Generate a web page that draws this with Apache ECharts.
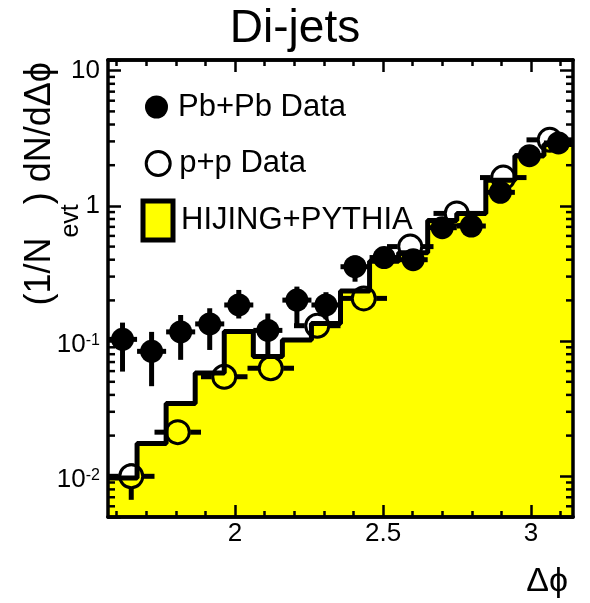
<!DOCTYPE html>
<html>
<head>
<meta charset="utf-8">
<style>
  html, body { margin: 0; padding: 0; background: #fff; }
  #chart { width: 590px; height: 603px; }
</style>
<script src="https://cdn.jsdelivr.net/npm/echarts@6/dist/echarts.min.js"></script>
</head>
<body>
<div id="chart"></div>
<script>
const FONT = '"Liberation Sans", Arial, Helvetica, sans-serif';

// delta phi goes from pi/2 to pi
const xMin = Math.PI / 2;
const xMax = Math.PI;
const yMin = 0.005;
const yMax = 12;
const pbpbBinWidth = Math.PI / 32;   // 16 bins (Pb+Pb, HIJING)
const ppBinWidth = Math.PI / 20;     // 10 bins (p+p)

// Pb+Pb data: value, lower and upper end of the error bar
const pbpbValue = [0.103, 0.084, 0.117, 0.134, 0.185, 0.12, 0.201, 0.185, 0.355, 0.415, 0.40, 0.69, 0.71, 1.26, 2.35, 2.92];
const pbpbLow   = [0.0595, 0.0464, 0.0727, 0.086, 0.147, 0.08, 0.128, 0.145, 0.275, 0.38, 0.36, 0.64, 0.66, 1.17, 2.2, 2.75];
const pbpbHigh  = [0.137, 0.117, 0.156, 0.175, 0.239, 0.16, 0.253, 0.23, 0.43, 0.46, 0.44, 0.75, 0.77, 1.36, 2.52, 3.1];

// p+p data
const ppValue = [0.0100, 0.0212, 0.0545, 0.063, 0.13, 0.207, 0.50, 0.88, 1.62, 3.08];
const ppLow   = [0.0067, 0.019, 0.049, 0.057, 0.118, 0.19, 0.47, 0.83, 1.53, 2.95];
const ppHigh  = [0.0125, 0.024, 0.060, 0.070, 0.143, 0.225, 0.53, 0.93, 1.72, 3.2];

// HIJING+PYTHIA histogram, one value per bin
const hijingValue = [0.0097, 0.0175, 0.0345, 0.058, 0.118, 0.077, 0.102, 0.135, 0.235, 0.39, 0.45, 0.78, 0.88, 1.55, 2.35, 2.85];

// ticks
const xMajorTicks = [2, 2.5, 3];
const xMinorTicks = [1.6, 1.7, 1.8, 1.9, 2.1, 2.2, 2.3, 2.4, 2.6, 2.7, 2.8, 2.9, 3.1];
const yMinorTicks = [
  0.006, 0.007, 0.008, 0.009,
  0.02, 0.03, 0.04, 0.05, 0.06, 0.07, 0.08, 0.09,
  0.2, 0.3, 0.4, 0.5, 0.6, 0.7, 0.8, 0.9,
  2, 3, 4, 5, 6, 7, 8, 9
];

const pbpbData = pbpbValue.map((v, i) => [xMin + (i + 0.5) * pbpbBinWidth, v, pbpbLow[i], pbpbHigh[i]]);
const ppData = ppValue.map((v, i) => [xMin + (i + 0.5) * ppBinWidth, v, ppLow[i], ppHigh[i]]);
const hijingData = hijingValue.map((v, i) => [xMin + i * pbpbBinWidth, v]);
hijingData.push([xMax, hijingValue[hijingValue.length - 1]]);

// error bars, leaving a gap round hollow markers
function errorBars(halfWidth, gap) {
  return function (params, api) {
    const x = api.value(0);
    const y = api.value(1);
    const c = api.coord([x, y]);
    const top = api.coord([x, api.value(3)])[1];
    const bot = api.coord([x, api.value(2)])[1];
    const left = api.coord([x - halfWidth, y])[0];
    const right = api.coord([x + halfWidth, y])[0];
    const segs = [];
    if (c[1] - top > gap) segs.push([c[0], top, c[0], c[1] - gap]);
    if (bot - c[1] > gap) segs.push([c[0], c[1] + gap, c[0], bot]);
    if (c[0] - left > gap) segs.push([left, c[1], c[0] - gap, c[1]]);
    if (right - c[0] > gap) segs.push([c[0] + gap, c[1], right, c[1]]);
    return {
      type: 'group',
      children: segs.map(s => ({
        type: 'line',
        shape: { x1: s[0], y1: s[1], x2: s[2], y2: s[3] },
        style: { stroke: '#000', lineWidth: 5 }
      }))
    };
  };
}

function xAxisOf(position, ticks, length, labels) {
  return {
    type: 'value',
    position,
    min: xMin,
    max: xMax,
    z: 10,
    splitLine: { show: false },
    axisLine: { show: true, lineStyle: { color: '#000', width: 3.5 } },
    axisTick: { show: true, inside: true, length, customValues: ticks, lineStyle: { color: '#000', width: 2.5 } },
    axisLabel: labels ? {
      show: true,
      customValues: ticks,
      margin: 4,
      color: '#000',
      fontSize: 26,
      fontFamily: FONT
    } : { show: false }
  };
}

function yAxisOf(position, labels) {
  return {
    type: 'log',
    logBase: 10,
    position,
    min: yMin,
    max: yMax,
    z: 10,
    splitLine: { show: false },
    axisLine: { show: true, lineStyle: { color: '#000', width: 3.5 } },
    axisTick: { show: true, inside: true, length: 13, lineStyle: { color: '#000', width: 2.5 } },
    axisLabel: labels ? {
      show: true,
      margin: 8,
      color: '#000',
      fontFamily: FONT,
      formatter: value => {
        const e = Math.round(Math.log10(value));
        if (Math.abs(value - Math.pow(10, e)) > 1e-6 * value) return '';
        if (e === 0) return '{b|1}';
        if (e === 1) return '{b|10}';
        return '{b|10}{sup|' + e + '}';
      },
      rich: {
        b: { fontSize: 26, lineHeight: 26, verticalAlign: 'bottom', fontFamily: FONT, color: '#000' },
        sup: { fontSize: 16, padding: [8, 0, 10, 0], verticalAlign: 'top', fontFamily: FONT, color: '#000' }
      }
    } : { show: false }
  };
}

function legendText(pad) {
  return { color: '#000', fontSize: 31, fontFamily: FONT, padding: [0, 0, 0, pad] };
}

const chart = echarts.init(document.getElementById('chart'), null, { renderer: 'canvas' });
chart.setOption({
  animation: false,
  backgroundColor: '#fff',
  title: {
    text: 'Di-jets',
    left: 'center',
    top: 1,
    textStyle: { color: '#000', fontSize: 46, fontWeight: 'normal', fontFamily: FONT }
  },
  grid: { left: 108, right: 17, top: 60, bottom: 86, show: false, outerBoundsMode: 'none' },
  legend: [
    {
      left: 140, top: 86.5, itemWidth: 23, itemHeight: 23, selectedMode: false, textStyle: legendText(5),
      data: [{ name: 'Pb+Pb Data', icon: 'circle', itemStyle: { color: '#000', borderWidth: 0 } }]
    },
    {
      left: 139.7, top: 143, itemWidth: 24, itemHeight: 24, selectedMode: false, textStyle: legendText(4),
      data: [{ name: 'p+p Data', icon: 'circle', itemStyle: { color: 'rgba(0,0,0,0)', borderColor: '#000', borderWidth: 3 } }]
    },
    {
      left: 135.5, top: 193.5, itemWidth: 30, itemHeight: 39, selectedMode: false, textStyle: legendText(3),
      data: [{ name: 'HIJING+PYTHIA', icon: 'rect', itemStyle: { color: '#ffff00', borderColor: '#000', borderWidth: 5 } }]
    }
  ],
  xAxis: [
    xAxisOf('bottom', xMajorTicks, 12, true),
    xAxisOf('bottom', xMinorTicks, 6, false),
    xAxisOf('top', xMajorTicks, 12, false),
    xAxisOf('top', xMinorTicks, 6, false)
  ],
  yAxis: [
    yAxisOf('left', true),
    yAxisOf('right', false)
  ],
  graphic: [
    {
      type: 'text',
      x: 22,
      y: 62,
      rotation: Math.PI / 2,
      style: {
        text: '{m|(1/N}{s|evt}{m|) dN/dΔϕ}',
        align: 'right',
        verticalAlign: 'top',
        rich: {
          m: { fontSize: 36, lineHeight: 40, verticalAlign: 'top', fontFamily: FONT, fill: '#000' },
          s: { fontSize: 25, lineHeight: 25, padding: [37, 0, 0, 0], verticalAlign: 'top', fontFamily: FONT, fill: '#000' }
        }
      }
    },
    {
      type: 'text',
      x: 568,
      y: 582,
      style: { text: 'Δϕ', align: 'right', verticalAlign: 'middle', fontSize: 34, fontFamily: FONT, fill: '#000' }
    }
  ],
  series: [
    {
      name: 'HIJING+PYTHIA',
      type: 'line',
      step: 'end',
      data: hijingData,
      symbol: 'none',
      silent: true,
      z: 1,
      itemStyle: { color: '#ffff00' },
      lineStyle: { color: '#000', width: 5 },
      areaStyle: { color: '#ffff00', opacity: 1, origin: yMin }
    },
    {
      name: 'p+p errors',
      type: 'custom',
      data: ppData,
      encode: { x: 0, y: 1 },
      renderItem: errorBars(ppBinWidth / 2, 12.5),
      silent: true,
      z: 3
    },
    {
      name: 'p+p Data',
      type: 'scatter',
      data: ppData.map(d => [d[0], d[1]]),
      symbol: 'circle',
      symbolSize: 23,
      silent: true,
      z: 3,
      itemStyle: { color: 'rgba(0,0,0,0)', borderColor: '#000', borderWidth: 3, opacity: 1 }
    },
    {
      name: 'Pb+Pb errors',
      type: 'custom',
      data: pbpbData,
      encode: { x: 0, y: 1 },
      renderItem: errorBars(pbpbBinWidth / 2, 0),
      silent: true,
      z: 4
    },
    {
      name: 'Pb+Pb Data',
      type: 'scatter',
      data: pbpbData.map(d => [d[0], d[1]]),
      symbol: 'circle',
      symbolSize: 23,
      silent: true,
      z: 4,
      itemStyle: { color: '#000', opacity: 1 }
    },
    {
      name: 'y minor ticks',
      type: 'custom',
      data: yMinorTicks.map(v => [xMin, v]),
      encode: { x: 0, y: 1 },
      clip: false,
      silent: true,
      z: 10,
      renderItem: (params, api) => {
        const v = api.value(1);
        const l = api.coord([xMin, v]);
        const r = api.coord([xMax, v]);
        return {
          type: 'group',
          children: [
            { type: 'line', shape: { x1: l[0], y1: l[1], x2: l[0] + 7, y2: l[1] }, style: { stroke: '#000', lineWidth: 2.5 } },
            { type: 'line', shape: { x1: r[0] - 7, y1: r[1], x2: r[0], y2: r[1] }, style: { stroke: '#000', lineWidth: 2.5 } }
          ]
        };
      }
    }
  ]
});
window.addEventListener('resize', () => chart.resize());
</script>
</body>
</html>
